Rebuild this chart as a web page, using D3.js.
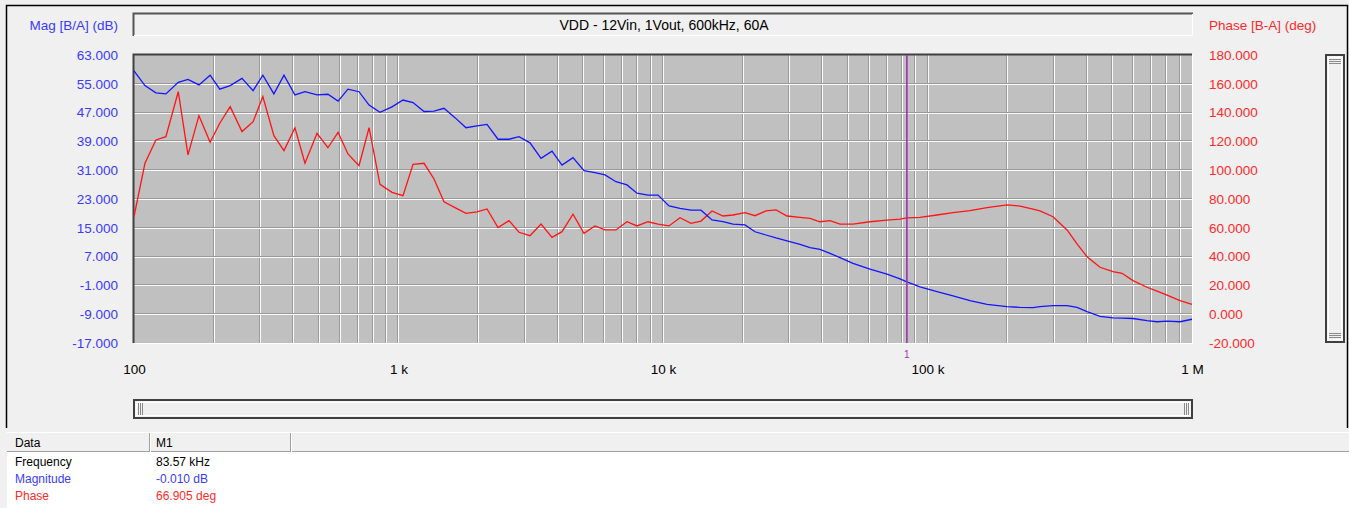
<!DOCTYPE html>
<html>
<head>
<meta charset="utf-8">
<script src="https://cdn.jsdelivr.net/npm/d3@7/dist/d3.min.js"></script>
<style>
  html, body { margin: 0; padding: 0; background: #f0f0f0; }
  svg { display: block; font-family: "Liberation Sans", Arial, sans-serif; }
</style>
</head>
<body>
<svg id="chart" width="1349" height="508"></svg>
<script>
// Sweep frequencies (Hz)
const freq = [
  100, 110, 121, 132, 147, 160, 176, 194, 211, 231,
  256, 282, 307, 338, 369, 406, 443, 492, 541, 591,
  644, 709, 774, 851, 945, 1040, 1135, 1249, 1362, 1486,
  1635, 1800, 1981, 2161, 2378, 2617, 2855, 3142, 3458, 3805,
  4151, 4568, 5027, 5532, 6035, 6642, 7310, 7974, 8776, 9574,
  10536, 11595, 12760, 13921, 15320, 16859, 18393, 20418, 22277, 24515,
  26746, 29434, 32960, 35960, 39230, 42800, 46690, 52280, 60620, 70300,
  78710, 83570, 93670, 108630, 124860, 144780, 167890, 199800, 223750, 250570,
  266200, 298110, 336930, 367580, 400960, 449020, 502860, 543800, 598360, 676040,
  737590, 804660, 900940, 1000000
];
// Magnitude B/A (dB)
const mag = [
  58.6, 54.5, 52.5, 52.2, 55.4, 56.2, 54.7, 57.4, 53.5, 54.5,
  56.5, 53.1, 57.4, 52.2, 57.4, 51.9, 52.8, 51.9, 52.1, 50.2,
  53.5, 52.8, 49.1, 47.1, 48.6, 50.5, 49.8, 47.3, 47.4, 48.2,
  45.6, 42.8, 43.3, 43.7, 39.6, 39.6, 40.3, 38.6, 34.3, 36.3,
  32.4, 34.5, 30.9, 30.3, 29.7, 27.8, 26.9, 24.6, 24.1, 24.1,
  21.1, 20.4, 19.9, 19.9, 17.2, 16.7, 16.0, 15.8, 13.9, 13.0,
  12.2, 11.4, 10.4, 9.5, 9.0, 7.9, 6.7, 5.1, 3.5, 2.1,
  0.8, -0.010, -1.4, -2.7, -3.9, -5.2, -6.3, -6.9, -7.1, -7.2,
  -6.9, -6.6, -6.6, -7.1, -8.3, -9.6, -10.0, -10.1, -10.2, -10.8,
  -11.1, -10.9, -11.1, -10.4
];
// Phase B-A (deg)
const phase = [
  67.7, 104.8, 121.0, 123.3, 154.5, 110.6, 137.9, 119.4, 132.6, 144.1,
  126.8, 133.7, 151.1, 124.0, 113.6, 129.5, 104.8, 125.6, 115.6, 126.3,
  111.3, 103.2, 129.5, 90.2, 84.6, 82.3, 104.1, 104.8, 93.9, 78.1,
  74.0, 70.0, 71.0, 73.1, 60.1, 65.0, 56.9, 54.5, 62.6, 53.4,
  57.3, 69.4, 56.2, 61.3, 58.5, 58.5, 64.2, 61.3, 64.2, 62.6,
  61.3, 67.0, 63.1, 64.7, 71.7, 68.2, 68.9, 70.5, 68.4, 71.7,
  72.4, 68.2, 67.3, 66.6, 64.2, 65.0, 62.5, 62.5, 64.2, 65.4,
  66.0, 66.905, 67.3, 68.9, 70.5, 72.0, 74.0, 75.9, 75.1, 73.0,
  71.7, 67.7, 58.5, 48.8, 39.9, 32.6, 29.5, 28.4, 23.3, 18.7,
  16.0, 13.3, 9.4, 6.9
];

const magTicks = [63, 55, 47, 39, 31, 23, 15, 7, -1, -9, -17];
const phaseTicks = [180, 160, 140, 120, 100, 80, 60, 40, 20, 0, -20];
const freqTicks = [100, 1e3, 1e4, 1e5, 1e6];
const freqTickLabels = ["100", "1 k", "10 k", "100 k", "1 M"];
const markerFreq = 83570;
const title = "VDD - 12Vin, 1Vout, 600kHz, 60A";

const BLUE_TXT = "#3a3aff", RED_TXT = "#ff2a2a";
const BLUE = "#1414ff", RED = "#ff1414";

const svg = d3.select("#chart");
const L = 134, R = 1192, T = 55, B = 343;

const x = d3.scaleLog().domain([100, 1e6]).range([L, R]);
const yMag = d3.scaleLinear().domain([-17, 63]).range([B, T]);
const yPh = d3.scaleLinear().domain([-20, 180]).range([B, T]);

// window frame
svg.append("path").attr("d", `M6.5,428 V5.5 H1347.5 V428`)
  .attr("fill", "none").attr("stroke", "#000").attr("stroke-width", 1.5);

// title box (inset)
svg.append("rect").attr("x", 133).attr("y", 13).attr("width", 1060).attr("height", 23).attr("fill", "#f0f0f0");
svg.append("path").attr("d", "M133.5,36 V13.5 H1193").attr("fill", "none").attr("stroke", "#555").attr("stroke-width", 2);
svg.append("path").attr("d", "M134,35.5 H1192.5 V14").attr("fill", "none").attr("stroke", "#fff").attr("stroke-width", 1);
svg.append("text").attr("x", (L + R) / 2 + 1).attr("y", 25).attr("dy", "0.35em")
  .attr("text-anchor", "middle").attr("font-size", 14).attr("fill", "#000").text(title);

// axis titles
svg.append("text").attr("x", 118).attr("y", 25).attr("dy", "0.35em").attr("text-anchor", "end")
  .attr("font-size", 13.5).attr("fill", BLUE_TXT).text("Mag [B/A] (dB)");
svg.append("text").attr("x", 1209).attr("y", 25).attr("dy", "0.35em").attr("text-anchor", "start")
  .attr("font-size", 13.5).attr("fill", RED_TXT).text("Phase [B-A] (deg)");

// plot background
svg.append("rect").attr("x", L).attr("y", T).attr("width", R - L).attr("height", B - T).attr("fill", "#c0c0c0");

// grid
const grid = svg.append("g");
x.ticks().forEach(f => {
  const px = Math.round(x(f));
  if (px <= L + 1 || px >= R - 1) return;
  grid.append("line").attr("x1", px - 0.5).attr("x2", px - 0.5).attr("y1", T).attr("y2", B).attr("stroke", "#9a9a9a");
  grid.append("line").attr("x1", px + 0.5).attr("x2", px + 0.5).attr("y1", T).attr("y2", B).attr("stroke", "#fafafa");
});
magTicks.forEach(v => {
  const py = Math.round(yMag(v));
  if (py <= T + 1 || py >= B - 1) return;
  grid.append("line").attr("x1", L).attr("x2", R).attr("y1", py - 0.5).attr("y2", py - 0.5).attr("stroke", "#9a9a9a");
  grid.append("line").attr("x1", L).attr("x2", R).attr("y1", py + 0.5).attr("y2", py + 0.5).attr("stroke", "#fafafa");
});

// plot border (inset look)
svg.append("path").attr("d", `M${L - 0.5},${B} V${T - 0.5} H${R}`).attr("fill", "none").attr("stroke", "#404040").attr("stroke-width", 2);
svg.append("path").attr("d", `M${L},${B + 0.5} H${R + 0.5} V${T}`).attr("fill", "none").attr("stroke", "#ffffff").attr("stroke-width", 1);

// data lines
const magLine = d3.line().x((d, i) => x(freq[i])).y(d => yMag(d));
const phLine = d3.line().x((d, i) => x(freq[i])).y(d => yPh(d));
svg.append("path").datum(phase).attr("d", phLine).attr("fill", "none").attr("stroke", RED).attr("stroke-width", 1.3);
svg.append("path").datum(mag).attr("d", magLine).attr("fill", "none").attr("stroke", BLUE).attr("stroke-width", 1.3);

// marker
const mx = x(markerFreq);
svg.append("line").attr("x1", mx).attr("x2", mx).attr("y1", T).attr("y2", B)
  .attr("stroke", "#a030b0").attr("stroke-width", 1.6);
svg.append("text").attr("x", mx).attr("y", 354).attr("dy", "0.35em").attr("text-anchor", "middle")
  .attr("font-size", 10).attr("fill", "#a030b0").text("1");

// axes
function styleAxis(g, color) {
  g.select(".domain").remove();
  g.selectAll(".tick line").remove();
  g.selectAll("text").attr("fill", color).attr("font-size", 13.5)
    .attr("font-family", "'Liberation Sans', Arial, sans-serif");
}
svg.append("g").attr("transform", `translate(${L},0)`)
  .call(d3.axisLeft(yMag).tickValues(magTicks).tickSize(0).tickPadding(16).tickFormat(d => d.toFixed(3)))
  .call(g => styleAxis(g, BLUE_TXT));
svg.append("g").attr("transform", `translate(${R},0)`)
  .call(d3.axisRight(yPh).tickValues(phaseTicks).tickSize(0).tickPadding(17).tickFormat(d => d.toFixed(3)))
  .call(g => styleAxis(g, RED_TXT));
svg.append("g").attr("transform", `translate(0,${B})`)
  .call(d3.axisBottom(x).tickValues(freqTicks).tickSize(0).tickPadding(21)
    .tickFormat((d, i) => freqTickLabels[i]))
  .call(g => styleAxis(g, "#000"));

// vertical scrollbar
svg.append("rect").attr("x", 1326).attr("y", 55).attr("width", 18).attr("height", 287)
  .attr("fill", "#f4f4f4").attr("stroke", "#404040").attr("stroke-width", 2);
svg.append("rect").attr("x", 1328.5).attr("y", 57.5).attr("width", 13).attr("height", 282)
  .attr("fill", "#f0f0f0").attr("stroke", "#ffffff").attr("stroke-width", 1);
[59.5, 61.5, 63.5, 333.5, 335.5, 337.5].forEach(gy => {
  svg.append("line").attr("x1", 1329).attr("x2", 1341).attr("y1", gy).attr("y2", gy).attr("stroke", "#8a8a8a");
});

// horizontal scrollbar
svg.append("rect").attr("x", 134).attr("y", 400).attr("width", 1058).attr("height", 18)
  .attr("fill", "#f4f4f4").attr("stroke", "#404040").attr("stroke-width", 2);
svg.append("rect").attr("x", 136.5).attr("y", 402.5).attr("width", 1053).attr("height", 13)
  .attr("fill", "#f0f0f0").attr("stroke", "#ffffff").attr("stroke-width", 1);
[138.5, 140.5, 142.5, 1184.5, 1186.5, 1188.5].forEach(gx => {
  svg.append("line").attr("x1", gx).attr("x2", gx).attr("y1", 403).attr("y2", 415).attr("stroke", "#8a8a8a");
});

// data table
const idx = freq.indexOf(markerFreq);
svg.append("rect").attr("x", 7).attr("y", 452).attr("width", 1342).attr("height", 56).attr("fill", "#ffffff");
const tbl = svg.append("g").attr("font-size", 12);
tbl.append("line").attr("x1", 7).attr("x2", 1349).attr("y1", 432.5).attr("y2", 432.5).attr("stroke", "#ffffff");
tbl.append("line").attr("x1", 7).attr("x2", 1349).attr("y1", 451.5).attr("y2", 451.5).attr("stroke", "#a0a0a0");
[149.5, 290.5].forEach(cx => {
  tbl.append("line").attr("x1", cx).attr("x2", cx).attr("y1", 433).attr("y2", 452).attr("stroke", "#a0a0a0");
  tbl.append("line").attr("x1", cx + 1).attr("x2", cx + 1).attr("y1", 433).attr("y2", 452).attr("stroke", "#ffffff");
});
const rows = [
  ["Data", "M1", "#000", 443],
  ["Frequency", (markerFreq / 1000).toFixed(2) + " kHz", "#000", 462],
  ["Magnitude", mag[idx].toFixed(3) + " dB", BLUE_TXT, 479],
  ["Phase", phase[idx].toFixed(3) + " deg", RED_TXT, 495.5]
];
rows.forEach(r => {
  tbl.append("text").attr("x", 15).attr("y", r[3]).attr("dy", "0.35em").attr("fill", r[2]).text(r[0]);
  tbl.append("text").attr("x", 156).attr("y", r[3]).attr("dy", "0.35em").attr("fill", r[2]).text(r[1]);
});
</script>
</body>
</html>
